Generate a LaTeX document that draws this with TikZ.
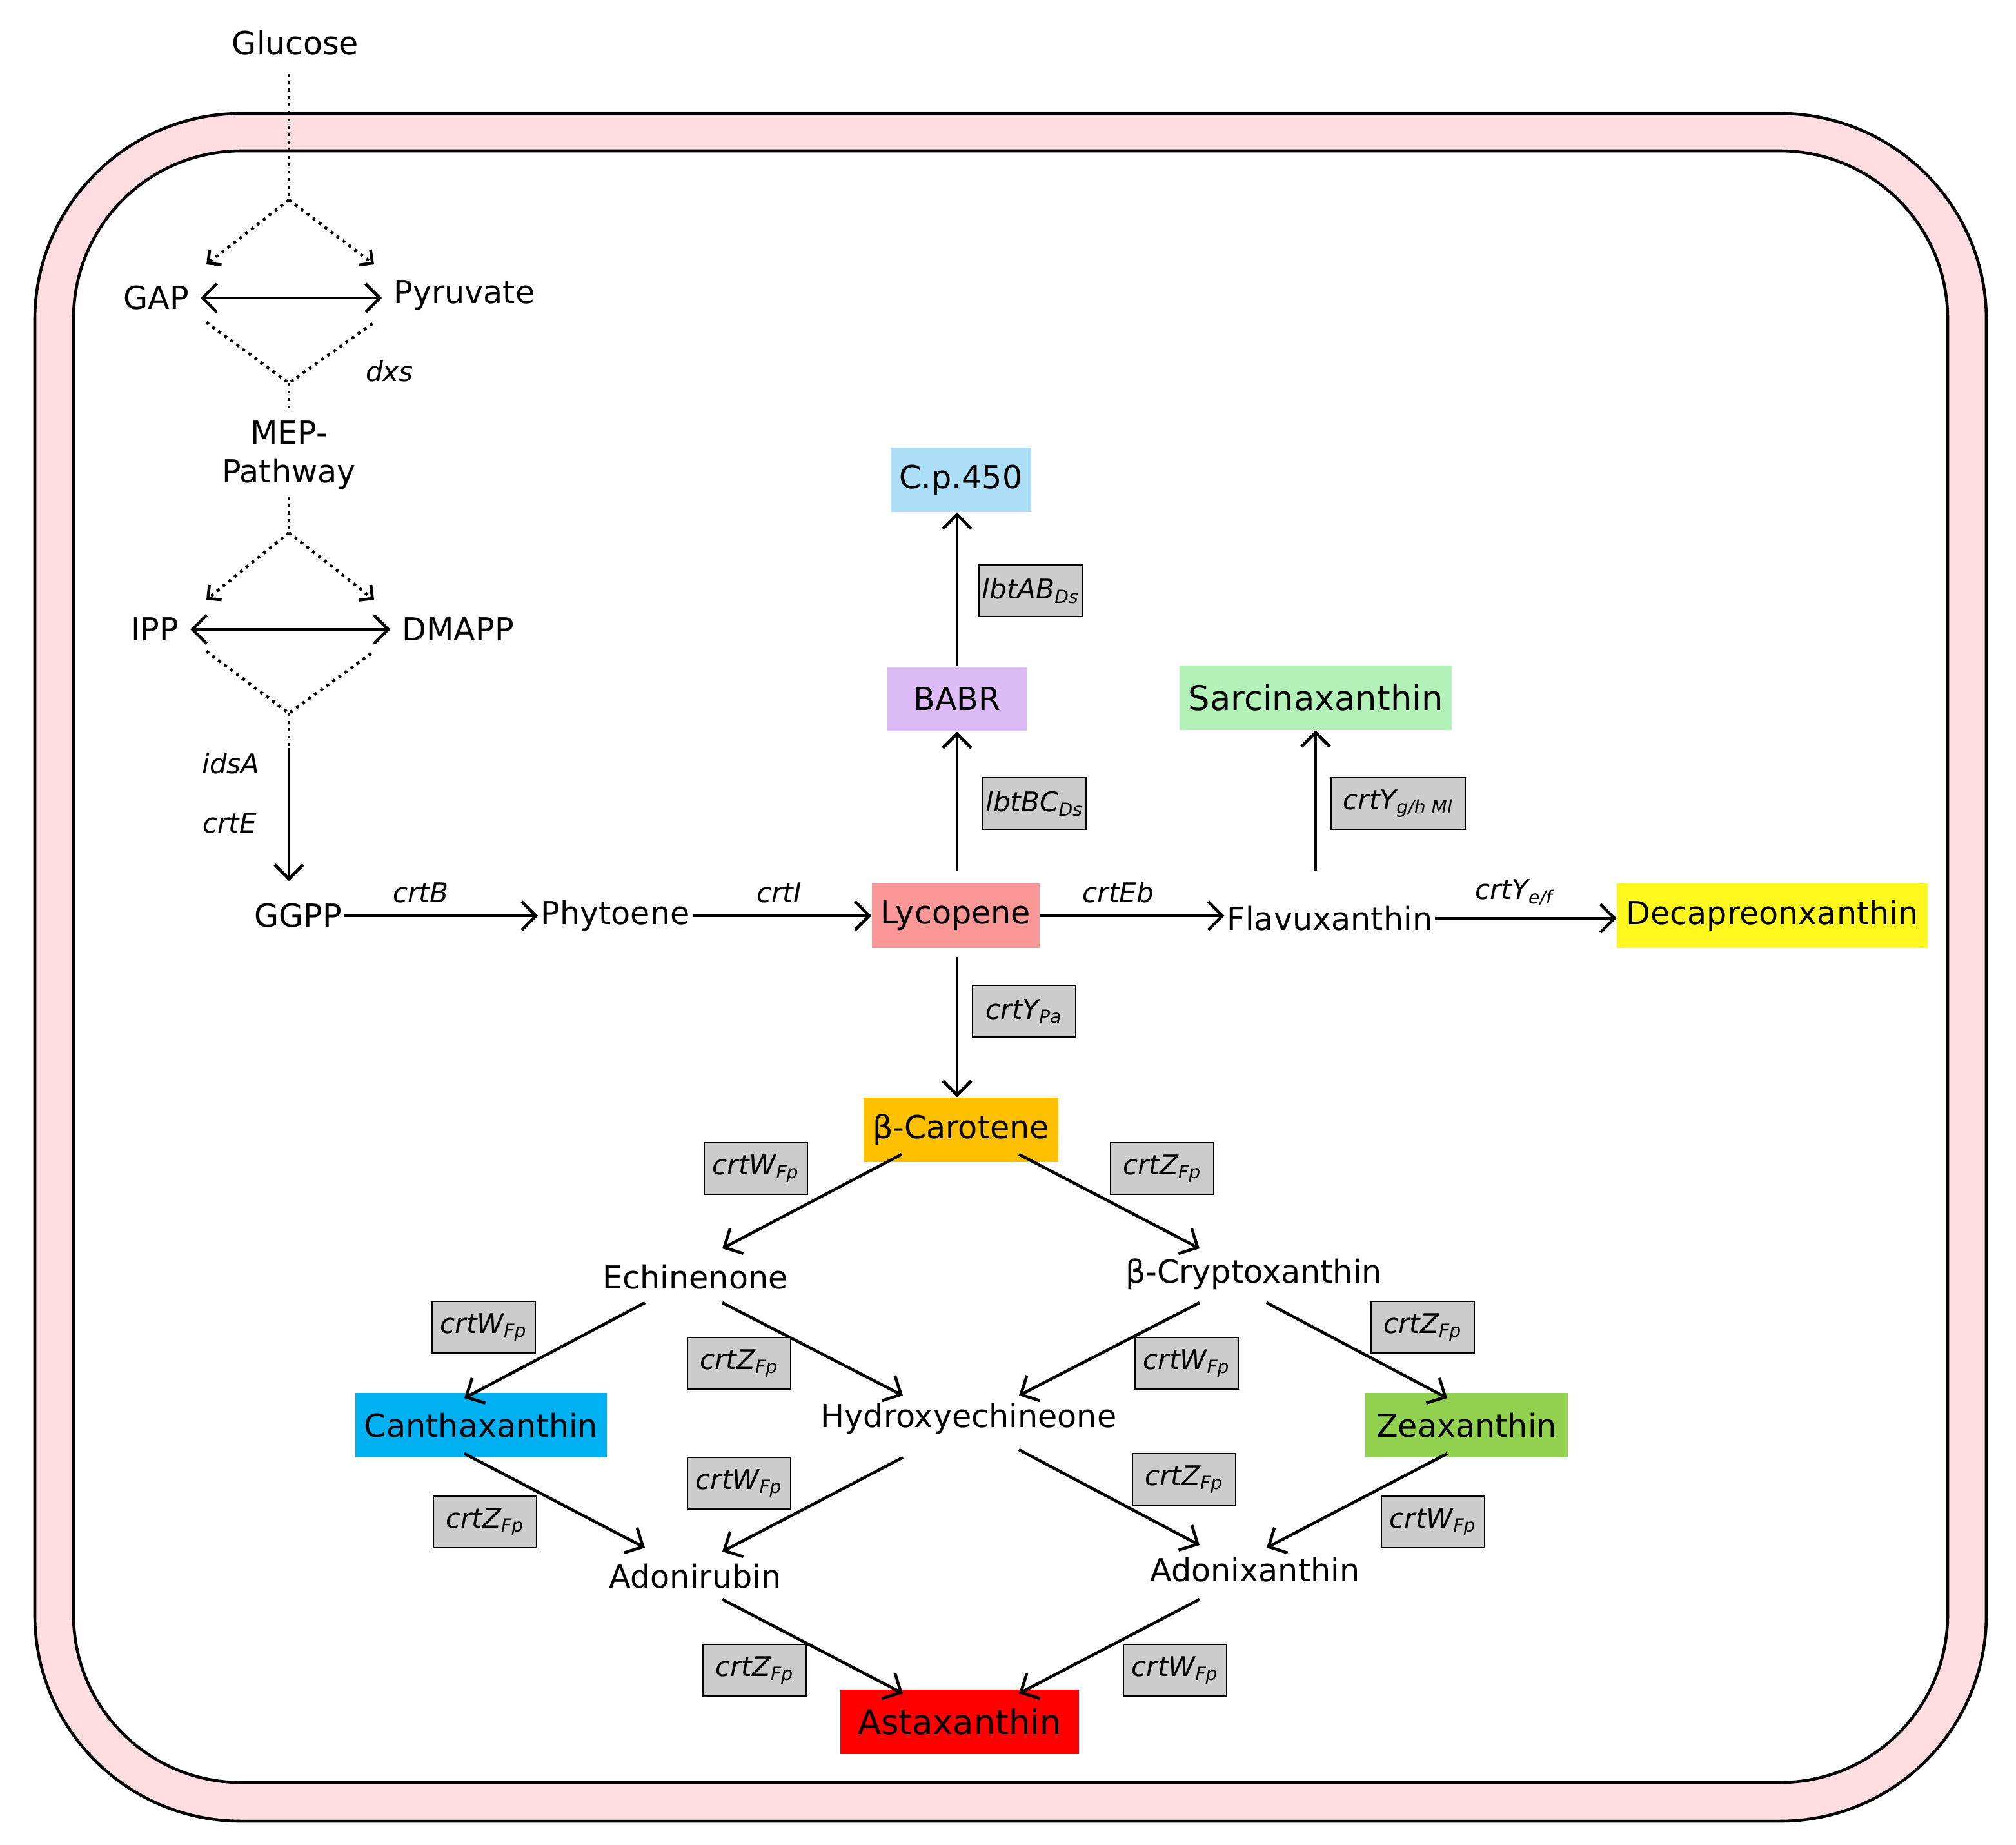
\documentclass[tikz,border=0pt]{standalone}
\usepackage{fontspec}
\setmainfont{DejaVu Sans}
\usetikzlibrary{arrows.meta}
\newcommand{\sbs}[1]{\textsubscript{\itshape #1}}
\begin{document}
\begin{tikzpicture}[x=0.2mm,y=-0.2mm,
  txt/.style={font=\fontsize{14}{17}\selectfont, inner sep=1pt},
  lab/.style={font=\fontsize{12}{14}\selectfont\itshape, inner sep=1pt},
  gene/.style={draw, line width=0.7pt, fill=black!20, font=\fontsize{12}{14}\selectfont\itshape, minimum width=80*0.2mm, minimum height=40*0.2mm, inner sep=1pt},
  box/.style={font=\fontsize{14}{17}\selectfont, minimum height=50*0.2mm, inner sep=4pt},
  ar/.style={line width=1.3pt, -{Straight Barb[length=2.2mm,width=4.4mm]}},
  dar/.style={line width=1.3pt, dotted, -{Straight Barb[length=1.5mm,width=3mm]}},
  dbl/.style={line width=1.3pt, {Straight Barb[length=2.2mm,width=4.4mm]}-{Straight Barb[length=2.2mm,width=4.4mm]}, shorten <=4pt, shorten >=4pt},
  dl/.style={line width=1.3pt, dotted}]
\useasboundingbox (0,0) rectangle (1563,1430);
\draw[line width=1.3pt, fill={rgb,255:red,255;green,221;blue,224}, rounded corners=3.2cm] (27,88) rectangle (1540,1412);
\draw[line width=1.3pt, fill=white, rounded corners=2.6cm] (57,117) rectangle (1510,1382);
% MEP part
\node[txt] (glc) at (229,33) {Glucose};
\node[txt] (gap) at (121,231) {GAP};
\node[txt] (pyr) at (360,229) {Pyruvate};
\node[lab] (dxs) at (302,288) {dxs};
\node[txt, align=center] (mep) at (224,353) {MEP-\\Pathway};
\node[txt] (ipp) at (120,488) {IPP};
\node[txt] (dma) at (355,488) {DMAPP};
\node[lab] (ids) at (179,592) {idsA};
\node[lab] (cre) at (178,638) {crtE};
\coordinate (g1) at (224,57);
\coordinate (g2) at (224,155);
\coordinate (g3) at (224,297);
\coordinate (g4) at (224,320);
\coordinate (g5) at (224,385);
\coordinate (g6) at (224,413);
\coordinate (g7) at (224,553);
\coordinate (g8) at (224,580);
\draw[dl] (g1) -- (g2);
\draw[dar] (g2) -- (160,205);
\draw[dar] (g2) -- (290,205);
\draw[dbl] (gap.east) -- (gap.east -| pyr.west);
\draw[dl] (160,250) -- (g3) -- (290,250);
\draw[dl] (g3) -- (g4);
\draw[dl] (g5) -- (g6);
\draw[dar] (g6) -- (160,465);
\draw[dar] (g6) -- (290,465);
\draw[dbl] (ipp.east) -- (ipp.east -| dma.west);
\draw[dl] (160,505) -- (g7) -- (290,505);
\draw[dl] (g7) -- (g8);
% main line
\node[txt] (ggpp) at (231,710) {GGPP};
\node[txt] (phy) at (477,710) {Phytoene};
\node[box, fill={rgb,255:red,249;green,150;blue,150}] (lyc) at (741,710) {Lycopene};
\node[txt] (fla) at (1031,712) {Flavuxanthin};
\node[box, fill={rgb,255:red,255;green,247;blue,30}] (dec) at (1374,710) {Decapreonxanthin};
\draw[ar] (g8) -- (224,683) coordinate (g9);
\draw[ar] (ggpp.east) -- (phy.west);
\draw[ar] (phy.east) -- (lyc.west);
\draw[ar] (lyc.east) -- (lyc.east -| fla.west);
\draw[ar] (fla.east) -- (fla.east -| dec.west);
\node[lab] at (326,692) {crtB};
\node[lab] at (604,692) {crtI};
\node[lab] at (867,692) {crtEb};
\node[lab] at (1174,692) {crtY\sbs{e/f}};
% upper branch
\node[box, fill={rgb,255:red,173;green,222;blue,247}] (cp) at (745,372) {C.p.450};
\node[box, fill={rgb,255:red,221;green,187;blue,247}, minimum width=108*0.2mm] (babr) at (742,542) {BABR};
\node[box, fill={rgb,255:red,178;green,242;blue,184}, font=\fontsize{15}{18}\selectfont] (sar) at (1020,541) {Sarcinaxanthin};
\coordinate (l1) at (742,675);
\coordinate (l2) at (742,742);
\coordinate (f1) at (1020,675);
\draw[ar] (l1) -- (l1 |- babr.south);
\draw[ar] (l1 |- babr.north) -- (l1 |- cp.south);
\draw[ar] (f1) -- (f1 |- sar.south);
\node[gene] at (799,458) {lbtAB\sbs{Ds}};
\node[gene] at (802,623) {lbtBC\sbs{Ds}};
\node[gene, minimum width=104*0.2mm] at (1084,623) {crtY\sbs{g/h Ml}};
\node[gene] at (794,784) {crtY\sbs{Pa}};
% lower branch
\node[box, fill={rgb,255:red,255;green,192;blue,0}] (bc) at (745,876) {β-Carotene};
\draw[ar] (l2) -- (l2 |- bc.north);
\node[txt] (ech) at (539,990) {Echinenone};
\node[txt] (cry) at (972,988) {β-Cryptoxanthin};
\node[box, fill={rgb,255:red,0;green,176;blue,240}, minimum width=193*0.2mm] (can) at (373,1105) {Canthaxanthin};
\node[txt] (hyd) at (751,1100) {Hydroxyechineone};
\node[box, fill={rgb,255:red,146;green,208;blue,80}, minimum width=157*0.2mm] (zea) at (1137,1105) {Zeaxanthin};
\node[txt] (adr) at (539,1222) {Adonirubin};
\node[txt] (adx) at (973,1217) {Adonixanthin};
\node[box, fill=red, minimum width=185*0.2mm, font=\fontsize{15}{18}\selectfont] (ast) at (744,1335) {Astaxanthin};
\coordinate (b1) at (699,895); \coordinate (b2) at (790,895);
\coordinate (e1) at (560,968); \coordinate (c1) at (930,968);
\coordinate (e2) at (500,1010); \coordinate (e3) at (560,1010);
\coordinate (c2) at (930,1010); \coordinate (c3) at (982,1010);
\coordinate (n1) at (360,1084); \coordinate (h1) at (700,1082);
\coordinate (h2) at (790,1082); \coordinate (z1) at (1122,1084);
\coordinate (n2) at (360,1127); \coordinate (h3) at (700,1130);
\coordinate (h4) at (790,1124); \coordinate (z2) at (1122,1127);
\coordinate (r1) at (500,1200); \coordinate (r2) at (560,1203);
\coordinate (x1) at (930,1198); \coordinate (x2) at (982,1200);
\coordinate (r3) at (560,1240); \coordinate (x3) at (930,1240);
\coordinate (a1) at (700,1313); \coordinate (a2) at (790,1313);
\draw[ar] (b1) -- (e1); \draw[ar] (b2) -- (c1);
\draw[ar] (e2) -- (n1); \draw[ar] (e3) -- (h1);
\draw[ar] (c2) -- (h2); \draw[ar] (c3) -- (z1);
\draw[ar] (n2) -- (r1); \draw[ar] (h3) -- (r2);
\draw[ar] (h4) -- (x1); \draw[ar] (z2) -- (x2);
\draw[ar] (r3) -- (a1); \draw[ar] (x3) -- (a2);
\node[gene] at (586,906) {crtW\sbs{Fp}};
\node[gene] at (901,906) {crtZ\sbs{Fp}};
\node[gene] at (375,1029) {crtW\sbs{Fp}};
\node[gene] at (573,1057) {crtZ\sbs{Fp}};
\node[gene] at (920,1057) {crtW\sbs{Fp}};
\node[gene] at (1103,1029) {crtZ\sbs{Fp}};
\node[gene] at (376,1180) {crtZ\sbs{Fp}};
\node[gene] at (573,1150) {crtW\sbs{Fp}};
\node[gene] at (918,1147) {crtZ\sbs{Fp}};
\node[gene] at (1111,1180) {crtW\sbs{Fp}};
\node[gene] at (585,1295) {crtZ\sbs{Fp}};
\node[gene] at (911,1295) {crtW\sbs{Fp}};
\end{tikzpicture}
\end{document}
